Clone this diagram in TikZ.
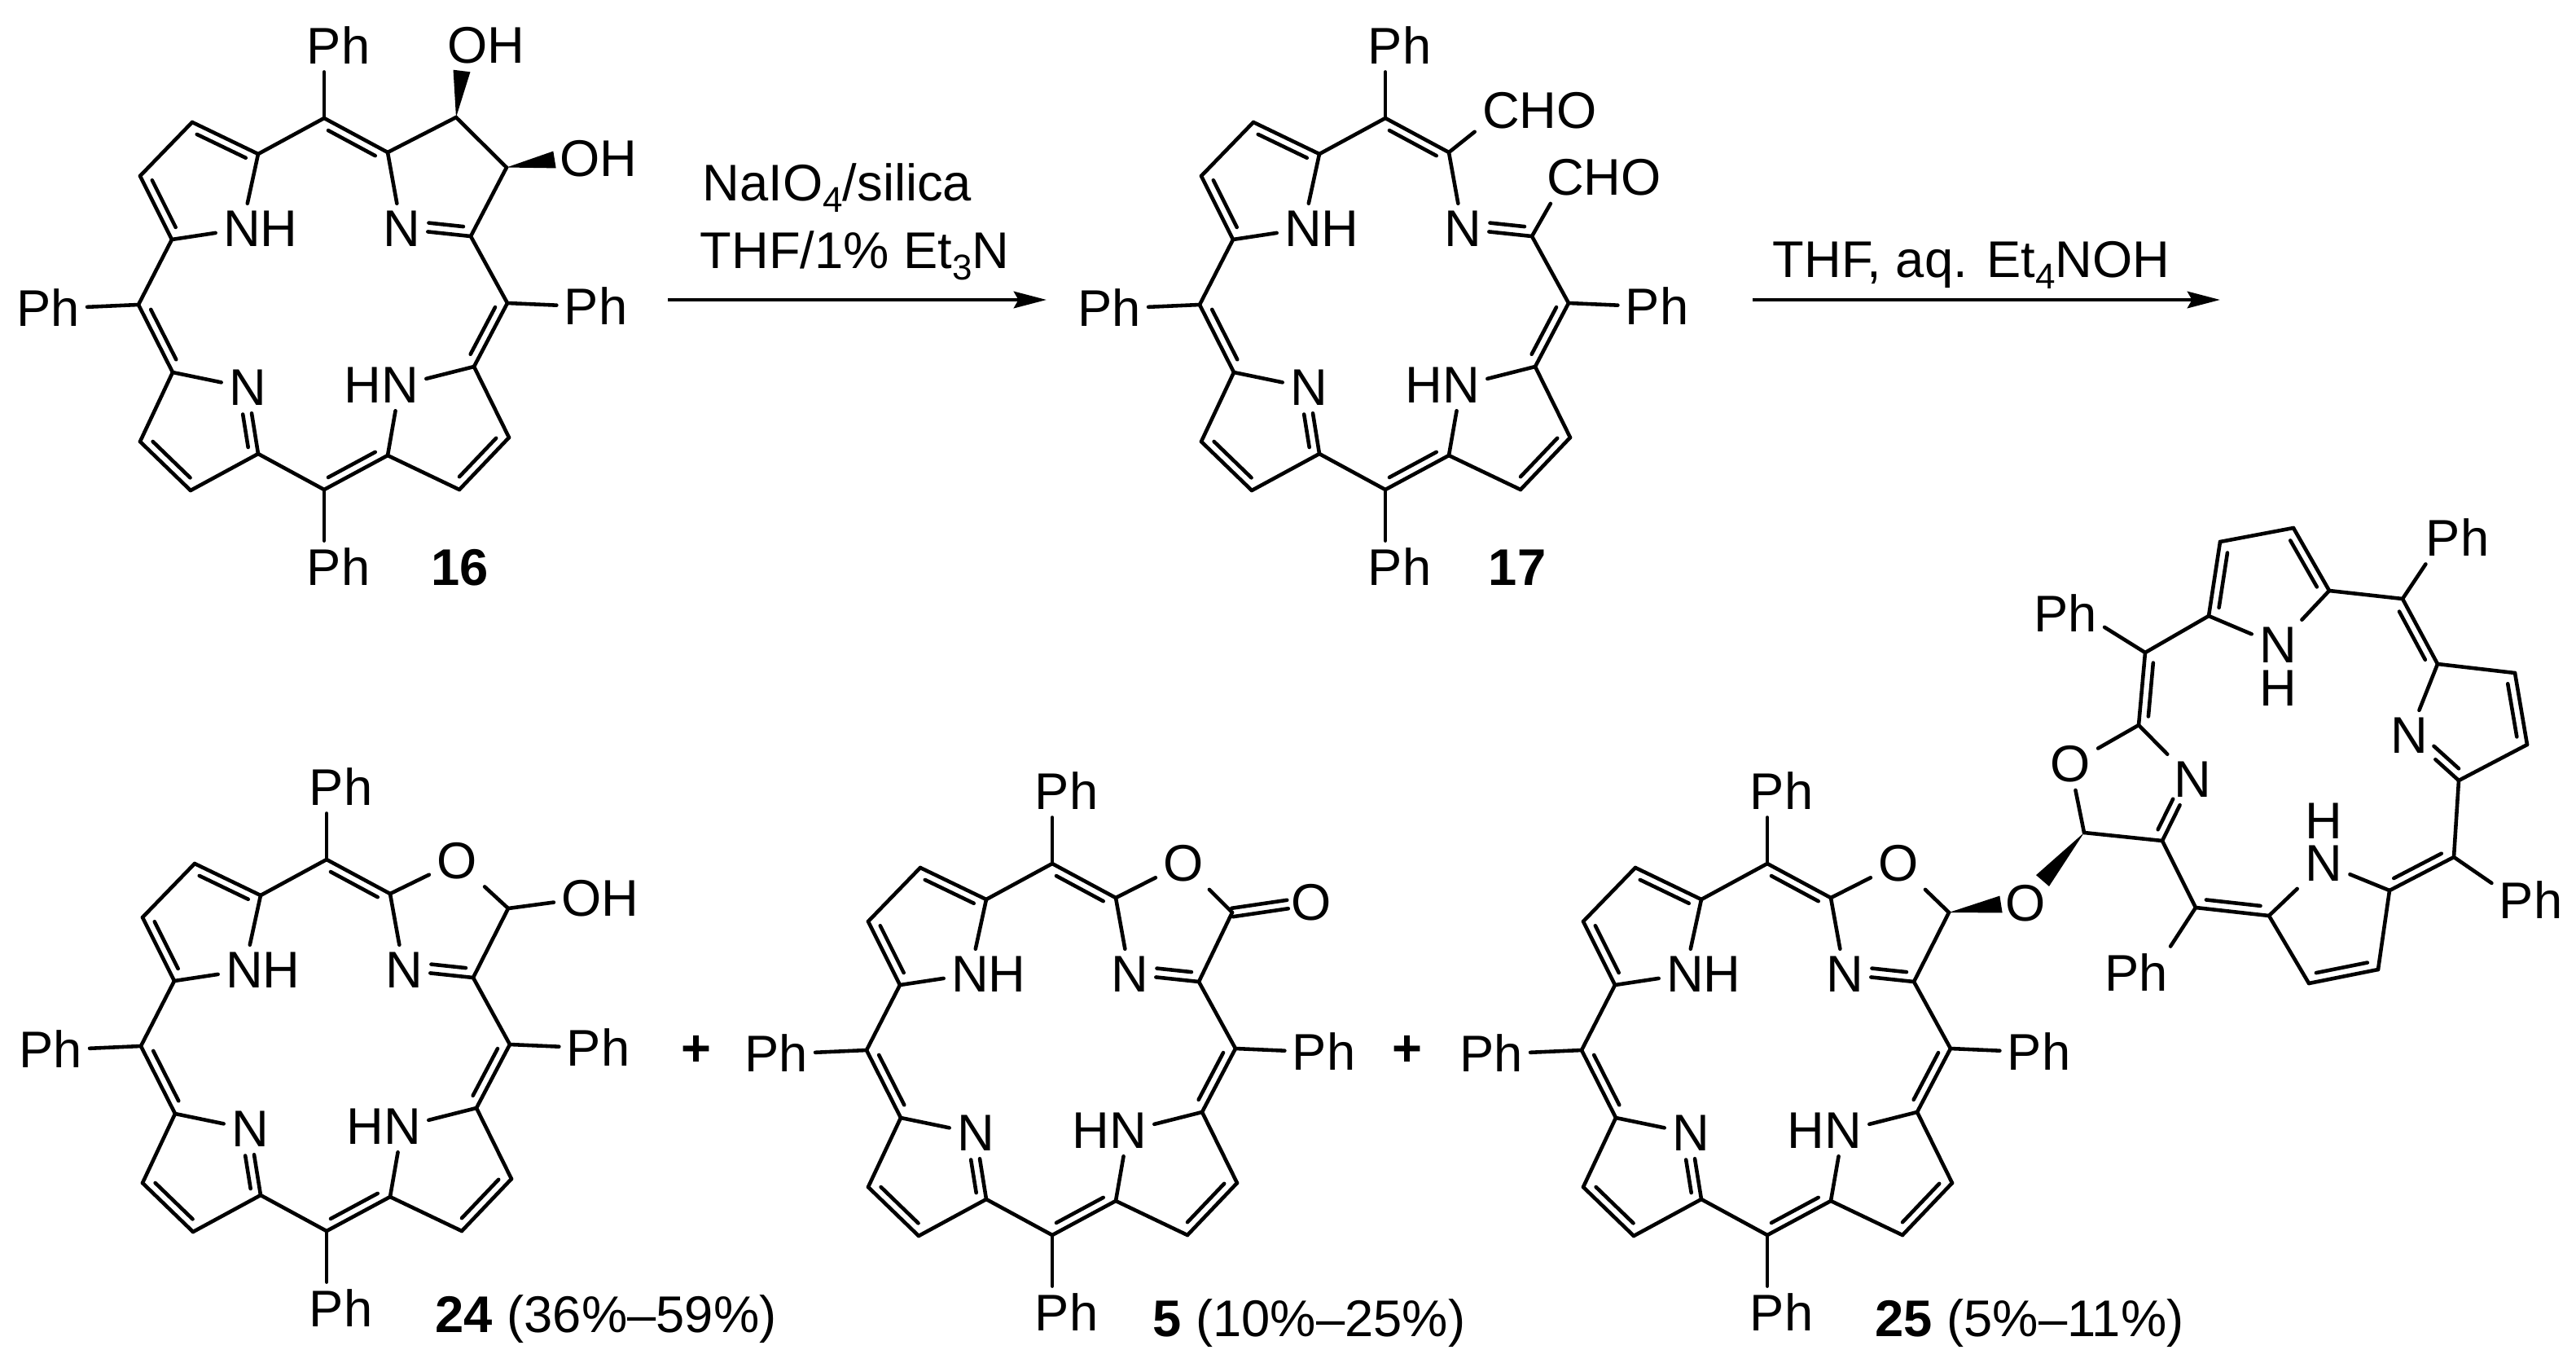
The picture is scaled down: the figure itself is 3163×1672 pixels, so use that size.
\documentclass[tikz,border=0pt]{standalone}
\usepackage{fontspec}
\setmainfont{Liberation Sans}
\usepackage{tikz}
\usetikzlibrary{calc}
\usetikzlibrary{arrows.meta}
\tikzset{ bond/.style = {line width=1.3pt, line cap=round, line join=round} }
\tikzset{ atom/.style = {inner sep=2.5pt, font=\fontsize{18}{21}\selectfont} }
\tikzset{ txt/.style = {inner sep=0pt, anchor=base west, font=\fontsize{18}{21}\selectfont} }
\tikzset{ rxn/.style = {line width=1.3pt, -{Stealth[length=11.4pt,width=5.8pt,inset=1.6pt]}} }
\newcommand{\subnum}[1]{\raisebox{-.23em}{\fontsize{12.5}{13}\selectfont #1}}
\newcommand{\sgl}[2]{\draw [style=bond] (#1) to (#2);}
\newcommand{\dblbond}[3]{\draw [style=bond] (#1) to (#2);
  \draw [style=bond] ($(#1)!.13!(#2)!3.1pt!#3:(#2)$) to ($(#1)!.87!(#2)!3.1pt!#3:(#2)$);}
\newcommand{\hetbond}[3]{\draw [style=bond] (#1) to (#2);
  \draw [style=bond] ($(#1)!.38!(#2)!3.1pt!#3:(#2)$) to ($(#1)!.88!(#2)!3.1pt!#3:(#2)$);}
\newcommand{\eqbond}[2]{\draw [style=bond] ($(#1)!1.5pt!90:(#2)$) to ($(#2)!1.5pt!-90:(#1)$);
  \draw [style=bond] ($(#1)!1.5pt!-90:(#2)$) to ($(#2)!1.5pt!90:(#1)$);}
\newcommand{\wedgebond}[2]{\fill ($(#2)!3pt!90:(#1)$) -- ($(#2)!3pt!-90:(#1)$) -- (#1) -- cycle;}
\newcommand{\porphcore}[2]{
  \begin{scope}[shift={(#2)}]
    \coordinate (#1m1) at (0,-228);
    \coordinate (#1a1) at (-81,-184);
    \coordinate (#1a2) at (-162,-223);
    \coordinate (#1a3) at (-226,-157);
    \coordinate (#1a4) at (-187,-79);
    \coordinate (#1m2) at (-228,1);
    \coordinate (#1b1) at (-186,84);
    \coordinate (#1b2) at (-226,169);
    \coordinate (#1b3) at (-164,229);
    \coordinate (#1b4) at (-81,184);
    \coordinate (#1m3) at (0,228);
    \coordinate (#1c1) at (78,186);
    \coordinate (#1c2) at (166,228);
    \coordinate (#1c3) at (227,164);
    \coordinate (#1c4) at (184,77);
    \coordinate (#1m4) at (225,-1);
    \coordinate (#1d1) at (180,-83);
    \coordinate (#1d4) at (78,-186);
    \node [style=atom] (#1n1) at (-101,-92) {N\rlap{H}};
    \node [style=atom] (#1n2) at (-94,103) {N};
    \node [style=atom] (#1n3) at (93,100) {\llap{H}N};
    \node [style=atom] (#1n4) at (95,-92) {N};
    \node [style=atom] (#1ph1) at (0,-317) {P\rlap{h}};
    \node [style=atom] (#1ph2) at (-318,5) {\llap{P}h};
    \node [style=atom] (#1ph3) at (0,323) {P\rlap{h}};
    \node [style=atom] (#1ph4) at (316,3) {P\rlap{h}};
    \sgl{#1m1}{#1a1} \dblbond{#1a1}{#1a2}{90} \sgl{#1a2}{#1a3} \dblbond{#1a3}{#1a4}{90}
    \sgl{#1a4}{#1n1} \sgl{#1a1}{#1n1} \sgl{#1a4}{#1m2}
    \dblbond{#1m2}{#1b1}{90} \sgl{#1b1}{#1b2} \dblbond{#1b2}{#1b3}{90} \sgl{#1b3}{#1b4}
    \sgl{#1b1}{#1n2} \hetbond{#1n2}{#1b4}{-90} \sgl{#1b4}{#1m3}
    \dblbond{#1m3}{#1c1}{90} \sgl{#1c1}{#1c2} \dblbond{#1c2}{#1c3}{90} \sgl{#1c3}{#1c4}
    \sgl{#1c4}{#1n3} \sgl{#1c1}{#1n3} \dblbond{#1c4}{#1m4}{90} \sgl{#1m4}{#1d1}
    \hetbond{#1n4}{#1d1}{90} \sgl{#1d4}{#1n4} \dblbond{#1d4}{#1m1}{90}
    \sgl{#1m1}{#1ph1} \sgl{#1m2}{#1ph2} \sgl{#1m3}{#1ph3} \sgl{#1m4}{#1ph4}
  \end{scope}
}
\begin{document}
\begin{tikzpicture}[x=0.01cm,y=-0.01cm]
  \useasboundingbox (0,0) rectangle (3163,1672);
  \porphcore{s}{398,373}
  \coordinate (sc1) at (560,144);
  \coordinate (sc2) at (622,205.5);
  \coordinate (sw1) at (567,87);
  \coordinate (sw2) at (681,196);
  \node [style=atom] (so1) at (574,56) {O\rlap{H}};
  \node [style=atom] (so2) at (712,195) {O\rlap{H}};
  \sgl{sd4}{sc1} \sgl{sc1}{sc2} \sgl{sc2}{sd1}
  \wedgebond{sc1}{sw1} \wedgebond{sc2}{sw2}
  \node [style=atom] (l16) at (565,697) {\bfseries 16};

  \coordinate (r1a) at (820,368);
  \coordinate (r1b) at (1285,368);
  \draw [style=rxn] (r1a) to (r1b);
  \node [style=txt] (t1) at (862,246) {NaIO\subnum{4}/silica};
  \node [style=txt] (t2) at (859,329) {THF/1\% Et\subnum{3}N};

  \porphcore{t}{1701,373}
  \node [style=atom] (tcho1) at (1843,136) {C\rlap{HO}};
  \node [style=atom] (tcho2) at (1922,218) {C\rlap{HO}};
  \sgl{td4}{tcho1} \sgl{td1}{tcho2}
  \node [style=atom] (l17) at (1863,697) {\bfseries 17};

  \coordinate (r2a) at (2152,368);
  \coordinate (r2b) at (2726,368);
  \draw [style=rxn] (r2a) to (r2b);
  \node [style=txt] (t3) at (2176,340) {THF, aq. Et\subnum{4}NOH};

  \porphcore{u}{401,1283}
  \begin{scope}[shift={(401,1283)}]
    \node [style=atom] (uo) at (160,-226) {O};
    \coordinate (uc) at (223,-168);
    \node [style=atom] (uoh) at (313,-180) {O\rlap{H}};
  \end{scope}
  \sgl{ud4}{uo} \sgl{uo}{uc} \sgl{uc}{ud1} \sgl{uc}{uoh}
  \node [style=txt] (l24) at (534,1635) {\textbf{24} (36\%–59\%)};
  \node [style=atom] (plus1) at (855,1290) {\bfseries +};

  \porphcore{v}{1292,1288}
  \begin{scope}[shift={(1292,1288)}]
    \node [style=atom] (vo) at (161,-228) {O};
    \coordinate (vc) at (221,-168);
    \node [style=atom] (vo2) at (318,-180) {O};
    \coordinate (vt) at (289,-178);
  \end{scope}
  \sgl{vd4}{vo} \sgl{vo}{vc} \sgl{vc}{vd1} \eqbond{vc}{vt}
  \node [style=txt] (l5) at (1415,1640) {\textbf{5} (10\%–25\%)};
  \node [style=atom] (plus2) at (1728,1290) {\bfseries +};

  \porphcore{w}{2170,1288}
  \begin{scope}[shift={(2170,1288)}]
    \node [style=atom] (wo) at (161,-228) {O};
    \coordinate (wc) at (223,-168);
    \node [style=atom] (wlink) at (317.5,-179) {O};
    \coordinate (wt) at (287,-178);
  \end{scope}
  \sgl{wd4}{wo} \sgl{wo}{wc} \sgl{wc}{wd1} \wedgebond{wc}{wt}
  \node [style=txt] (l25) at (2302,1640) {\textbf{25} (5\%–11\%)};

  \coordinate (xc5) at (2559,1022);
  \coordinate (xw) at (2508,1081);
  \coordinate (xc6) at (2626,890);
  \coordinate (xc7) at (2655,1032);
  \coordinate (xm1) at (2634,801);
  \coordinate (xp1) at (2712,756);
  \coordinate (xp2) at (2726,665);
  \coordinate (xp3) at (2816,648);
  \coordinate (xp4) at (2860,725);
  \coordinate (xm2) at (2950,735);
  \coordinate (xq1) at (2993,815);
  \coordinate (xq2) at (3088,826);
  \coordinate (xq3) at (3103,914);
  \coordinate (xq4) at (3019,958);
  \coordinate (xm3) at (3013,1052);
  \coordinate (xr1) at (2934,1093);
  \coordinate (xr2) at (2920,1190);
  \coordinate (xr3) at (2835,1207);
  \coordinate (xr4) at (2786,1124);
  \coordinate (xm4) at (2696,1114);
  \node [style=atom] (xo) at (2542,938) {O};
  \node [style=atom] (xn1) at (2692,957) {N};
  \node [style=atom] (xn2) at (2797,792) {N\llap{\smash{\raisebox{-.53cm}{H}}}};
  \node [style=atom] (xn3) at (2958,903) {N};
  \node [style=atom] (xn4) at (2853,1060) {\rlap{\smash{\raisebox{.52cm}{H}}}N};
  \node [style=atom] (xph1) at (2557,753) {\llap{P}h};
  \node [style=atom] (xph2) at (3000,660) {P\rlap{h}};
  \node [style=atom] (xph3) at (3090,1105) {P\rlap{h}};
  \node [style=atom] (xph4) at (2644,1194) {\llap{P}h};
  \wedgebond{xc5}{xw}
  \sgl{xc5}{xo} \sgl{xo}{xc6} \sgl{xc6}{xn1} \hetbond{xn1}{xc7}{-90} \sgl{xc7}{xc5}
  \dblbond{xc6}{xm1}{-90} \sgl{xm1}{xph1} \sgl{xm1}{xp1}
  \dblbond{xp2}{xp1}{90} \sgl{xp2}{xp3} \dblbond{xp4}{xp3}{90}
  \sgl{xp1}{xn2} \sgl{xp4}{xn2} \sgl{xp4}{xm2} \sgl{xm2}{xph2}
  \dblbond{xq1}{xm2}{90} \sgl{xq1}{xq2} \dblbond{xq3}{xq2}{90} \sgl{xq3}{xq4}
  \sgl{xq1}{xn3} \hetbond{xn3}{xq4}{90} \sgl{xq4}{xm3} \sgl{xm3}{xph3}
  \dblbond{xr1}{xm3}{90} \sgl{xr1}{xn4} \sgl{xr1}{xr2} \dblbond{xr3}{xr2}{90}
  \sgl{xr3}{xr4} \sgl{xr4}{xn4} \dblbond{xm4}{xr4}{90} \sgl{xm4}{xc7} \sgl{xm4}{xph4}
\end{tikzpicture}
\end{document}
